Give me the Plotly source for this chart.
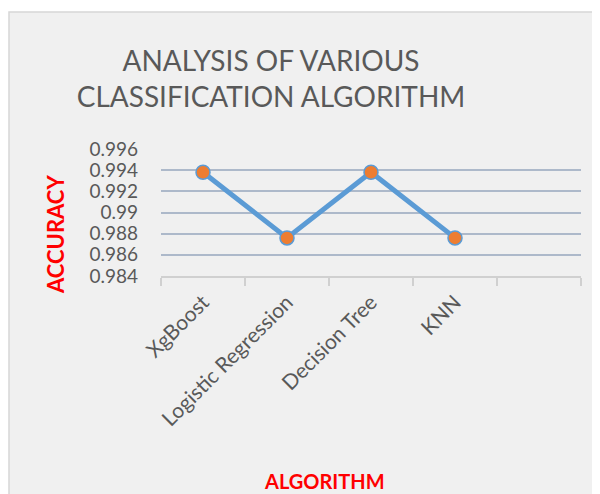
import plotly.graph_objects as go

categories = ["XgBoost", "Logistic Regression", "Decision Tree", "KNN"]
accuracy = [0.9938, 0.9876, 0.9938, 0.9876]
y_ticks = [0.984, 0.986, 0.988, 0.99, 0.992, 0.994, 0.996]
y_tick_text = ["0.984", "0.986", "0.988", "0.99", "0.992", "0.994", "0.996"]
n_slots = 5  # chart reserves one empty category slot on the right

x_pos = list(range(len(categories)))

OFF = 8  # page body margin
SW, SH = 600, 494           # screen size
W, H = SW - OFF, SH - OFF   # figure size
# plot area in screen pixels
PX0, PX1, PY0, PY1 = 161, 581, 149, 276
L, R, T, B = PX0 - OFF, SW - PX1, PY0 - OFF, SH - PY1
pw, ph = PX1 - PX0, PY1 - PY0

def px_x(p):
    return (p - PX0) / pw

def px_y(p):
    return (PY1 - p) / ph

FONT = "Lato, 'Open Sans', sans-serif"
GRAY = "#595959"

fig = go.Figure()
fig.add_trace(go.Scatter(
    x=x_pos, y=accuracy, mode="lines+markers",
    line=dict(color="#5b9bd5", width=5),
    marker=dict(color="#ed7d31", size=14, line=dict(color="#5b9bd5", width=1.5)),
    showlegend=False,
))

fig.update_layout(
    width=W, height=H,
    margin=dict(l=L, r=R, t=T, b=B, autoexpand=False),
    paper_bgcolor="white",
    plot_bgcolor="rgba(0,0,0,0)",
    font=dict(family=FONT, color=GRAY),
    title=dict(
        text="ANALYSIS OF VARIOUS<br>CLASSIFICATION ALGORITHM",
        x=(271 - OFF) / W, xanchor="center", xref="container",
        y=1 - (71 - OFF) / H, yanchor="middle", yref="container",
        font=dict(family=FONT, size=28, color=GRAY),
    ),
    xaxis=dict(
        range=[-0.5, n_slots - 0.5],
        tickmode="array", tickvals=x_pos, ticktext=categories,
        tickangle=-45, tickfont=dict(size=21, color=GRAY),
        ticks="", ticklabelstandoff=4,
        showgrid=False, zeroline=False,
        showline=True, linecolor="#d0d0d0", linewidth=1.5,
        minor=dict(tickmode="array", tickvals=[i - 0.5 for i in range(n_slots + 1)],
                   ticks="outside", ticklen=8, tickcolor="#d0d0d0", tickwidth=1.5,
                   showgrid=False),
        fixedrange=True,
    ),
    yaxis=dict(
        range=[0.984, 0.996],
        tickmode="array", tickvals=y_ticks, ticktext=y_tick_text,
        tickfont=dict(size=19, color=GRAY),
        ticks="", ticklabelstandoff=22,
        showgrid=True, gridcolor="#adb9ca", gridwidth=1.8,
        zeroline=False, showline=False,
        fixedrange=True,
    ),
    shapes=[
        dict(type="rect", xref="paper", yref="paper", layer="below",
             x0=px_x(9), x1=px_x(640), y0=px_y(540), y1=px_y(12),
             fillcolor="#f0f0f0", line=dict(color="#d6d6d6", width=1.5)),
    ],
    annotations=[
        dict(text="<b>ACCURACY</b>", xref="paper", yref="paper",
             x=px_x(55), y=px_y(235), textangle=-90, showarrow=False,
             xanchor="center", yanchor="middle",
             font=dict(family=FONT, size=22, color="#ff0000")),
        dict(text="<b>ALGORITHM</b>", xref="paper", yref="paper",
             x=px_x(324), y=px_y(481), showarrow=False,
             xanchor="center", yanchor="middle",
             font=dict(family=FONT, size=20, color="#ff0000")),
    ],
)

fig.write_html("out.html")
